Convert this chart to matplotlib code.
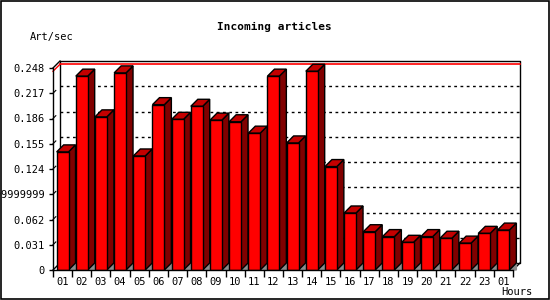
import matplotlib
matplotlib.use("Agg")
import matplotlib.pyplot as plt
from matplotlib.patches import Rectangle

# Data
hours = ["01", "02", "03", "04", "05", "06", "07", "08", "09", "10", "11", "12",
         "13", "14", "15", "16", "17", "18", "19", "20", "21", "22", "23", "01"]
art_per_sec = [0.145, 0.238, 0.188, 0.242, 0.140, 0.203, 0.185, 0.201,
               0.184, 0.182, 0.168, 0.238, 0.156, 0.244, 0.127, 0.070,
               0.047, 0.041, 0.034, 0.041, 0.039, 0.033, 0.045, 0.049]
y_ticks = [0, 0.031, 0.062, 0.093, 0.124, 0.155, 0.186, 0.217, 0.248]
y_tick_labels = ["0", "0.031", "0.062", "0.09299999999999999", "0.124",
                 "0.155", "0.186", "0.217", "0.248"]

plt.rcParams['font.family'] = ['DejaVu Sans Mono', 'DejaVu Sans']

FRONT = "#ff0000"
TOP = "#c40000"
SIDE = "#800000"
FLOOR = "#8c8c8c"

fig = plt.figure(figsize=(5.5, 3.0), dpi=100)
fig.patch.set_facecolor("white")
# image border
fig.patches.append(Rectangle((0.001, 0.002), 0.997, 0.995, transform=fig.transFigure,
                             fill=False, edgecolor="black", lw=1.2))

W, H = 550.0, 300.0
ax = fig.add_axes([53 / W, (H - 270) / H, 460 / W, 202 / H])
ax.set_facecolor("none")

n = len(art_per_sec)
ymax = y_ticks[-1]
ax.set_xlim(-0.5, n - 0.5)
ax.set_ylim(0, ymax)

# 3D depth in data units (~7 px)
dx = 7 / (460 / n)
dy = 7 / 202 * ymax
bw = 0.62

kw = dict(clip_on=False)

# back frame
x0, x1 = -0.5 + dx, n - 0.5 + dx
ax.plot([x0, x1, x1, x0, x0], [dy, dy, ymax + dy, ymax + dy, dy], color="black", lw=1, zorder=1, **kw)
ax.plot([-0.5, x0], [ymax, ymax + dy], color="black", lw=1, zorder=1, **kw)
ax.plot([-0.5, x0], [0, dy], color="black", lw=1, zorder=1, **kw)
ax.plot([n - 0.5, x1], [0, dy], color="black", lw=1, zorder=1, **kw)

# dotted grid on the back plane
for v in y_ticks[1:-1]:
    ax.plot([x0, x1], [v + dy, v + dy], color="black", lw=1, ls=(0, (2, 2.5)), zorder=1, **kw)
    ax.plot([-0.5, -0.5 + dx * 0.4], [v, v + dy * 0.4], color="black", lw=0.8, zorder=1, **kw)

# max line
vmax = max(art_per_sec)
ax.plot([x0, x1], [vmax + dy, vmax + dy], color="red", lw=1.2, zorder=1.5, **kw)
ax.plot([-0.5, x0], [vmax, vmax + dy], color="red", lw=1, zorder=1.5, **kw)

# bars: front faces
xs = list(range(n))
ax.bar(xs, art_per_sec, width=bw, color=FRONT, edgecolor="black", lw=1, zorder=3)

# top, side and floor faces
for x, v in zip(xs, art_per_sec):
    l, r = x - bw / 2, x + bw / 2
    ax.fill([r, r + dx, r + dx], [0, dy, 0], color=FLOOR, zorder=2, **kw)
    ax.fill([r, r + dx, r + dx, r], [0, dy, v + dy, v], facecolor=SIDE,
            edgecolor="black", lw=1, zorder=2.5, **kw)
    ax.fill([l, l + dx, r + dx, r], [v, v + dy, v + dy, v], facecolor=TOP,
            edgecolor="black", lw=1, zorder=2.5, **kw)

# axes / ticks
for s in ["top", "right"]:
    ax.spines[s].set_visible(False)
for s in ["left", "bottom"]:
    ax.spines[s].set_linewidth(1)
    ax.spines[s].set_zorder(4)

ax.set_yticks(y_ticks, y_tick_labels)
ax.tick_params(axis="y", length=3, width=1, pad=3, labelsize=7.5)
ax.set_xticks(xs, hours)
ax.set_xticks([i - 0.5 for i in range(n + 1)], minor=True)
ax.tick_params(axis="x", which="major", length=0, pad=5, labelsize=7.5)
ax.tick_params(axis="x", which="minor", length=5, width=1)

fig.text(274 / W, 1 - 27 / H, "Incoming articles", ha="center", va="center",
         fontsize=8, fontweight="bold")
fig.text(30 / W, 1 - 37 / H, "Art/sec", ha="left", va="center", fontsize=7.5)
fig.text(533 / W, 1 - 292 / H, "Hours", ha="right", va="center", fontsize=7.5)

fig.savefig("out.png", dpi=100)
